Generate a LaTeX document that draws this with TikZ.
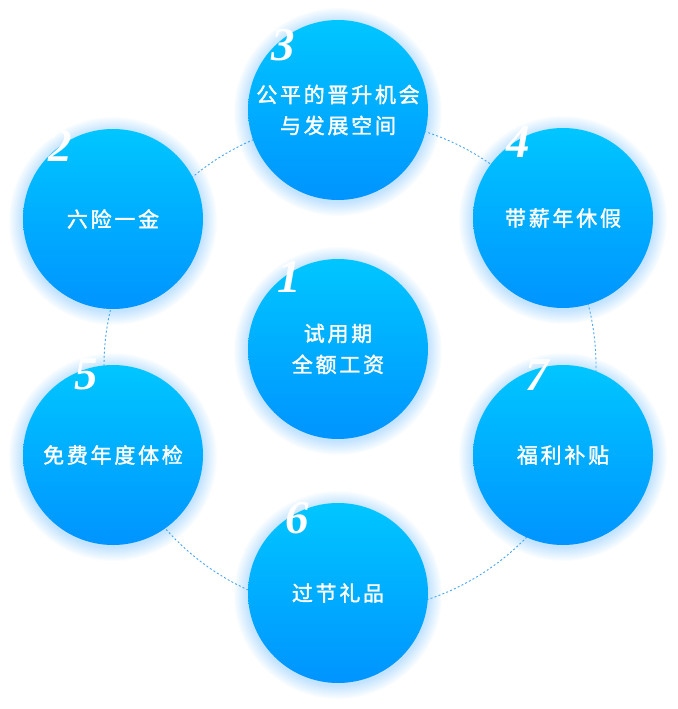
\documentclass[tikz,border=0pt]{standalone}
\usepackage{fontspec}
\newfontfamily\cjk[LetterSpace=13,FakeBold=1.6]{Noto Sans CJK SC}
\newfontfamily\numfont{Liberation Serif}
\definecolor{topc}{RGB}{0,198,255}
\definecolor{botc}{RGB}{0,148,255}
\definecolor{glowc}{RGB}{70,185,255}
\definecolor{dotc}{RGB}{70,165,240}
\tikzset{
  bubble/.style={circle, minimum size=180pt, inner sep=0pt, top color=topc, bottom color=botc,
    text=white, align=center, font=\cjk\fontsize{21}{31}\selectfont},
  numlabel/.style={text=white, inner sep=0pt, font=\numfont\bfseries\itshape\fontsize{47}{47}\selectfont},
  ring/.style={draw=dotc, line width=0.9pt, dash pattern=on 2pt off 2.2pt}
}
\begin{document}
\begin{tikzpicture}[x=1pt,y=-1pt]
\useasboundingbox (0,0) rectangle (677,709);
\fill[white] (0,0) rectangle (677,709);
% centres
\coordinate (p1) at (338,349);
\coordinate (p2) at (113,219);
\coordinate (p3) at (338,110);
\coordinate (p4) at (563,218);
\coordinate (p5) at (113,455);
\coordinate (p6) at (338,593);
\coordinate (p7) at (563,455);
\coordinate (rc) at (350,366);
% dotted ring
\draw[ring] (rc) circle (246);
% glows
\foreach \p in {p1,p2,p3,p4,p5,p6,p7}{
  \foreach \k in {14,13,...,1}{
    \fill[glowc, opacity=0.024] ([yshift=-2pt]\p) circle (90+\k);
  }
}
% bubbles
\node[bubble] (c1) at (p1) {试用期\\全额工资};
\node[bubble] (c2) at (p2) {六险一金};
\node[bubble] (c3) at (p3) {公平的晋升机会\\与发展空间};
\node[bubble] (c4) at (p4) {带薪年休假};
\node[bubble] (c5) at (p5) {免费年度体检};
\node[bubble] (c6) at (p6) {过节礼品};
\node[bubble] (c7) at (p7) {福利补贴};
% numbers
\foreach \n/\x/\y in {1/289/277, 2/60/146, 3/283/45, 4/518/142, 5/86/374, 6/297/518, 7/537/375}{
  \node[numlabel] (n\n) at (\x,\y) {\n};
}
\end{tikzpicture}
\end{document}
